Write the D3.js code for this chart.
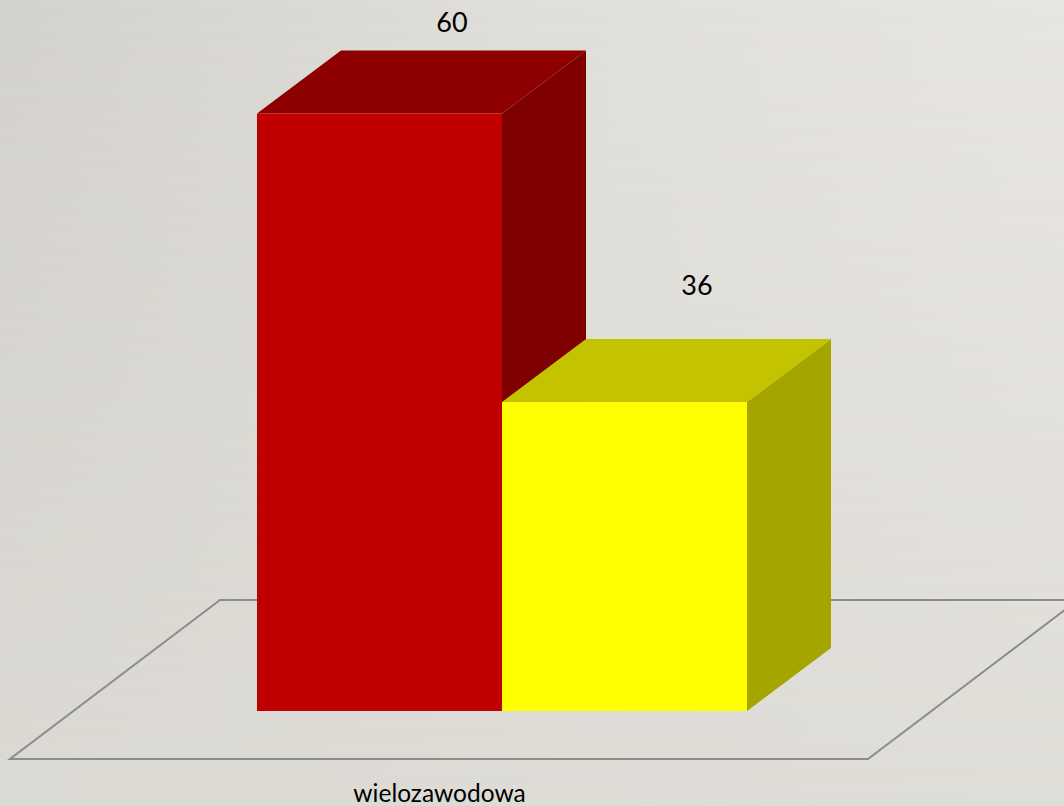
<!DOCTYPE html>
<html><head><meta charset="utf-8">
<script src="https://cdn.jsdelivr.net/npm/d3@7/dist/d3.min.js"></script>
<style>html,body{margin:0;padding:0;overflow:hidden}svg{display:block}</style>
</head><body><svg id="c" width="1064" height="806"></svg>
<script>
const categories = ["wielozawodowa"];
const seriesNames = ["A", "B"];
const seriesValues = [60, 36];
const seriesFront = ["#c00000", "#ffff00"];
const seriesTop = ["#8e0000", "#c3c300"];
const seriesSide = ["#7f0000", "#a5a500"];

const svg = d3.select("#c");
const defs = svg.append("defs");
const hGrad = (id, a, m, b) => {
  const gr = defs.append("linearGradient").attr("id",id).attr("x1","0").attr("x2","1").attr("y1","0").attr("y2","0");
  gr.append("stop").attr("offset","0").attr("stop-color",a);
  gr.append("stop").attr("offset","0.5").attr("stop-color",m);
  gr.append("stop").attr("offset","1").attr("stop-color",b);
};
hGrad("bgTop","#d4d2cd","#e0dfda","#e8e6e2");
hGrad("bgBottom","#dbd9d3","#dddbd5","#dfddd7");
const fade = defs.append("linearGradient").attr("id","fade").attr("x1","0").attr("x2","0").attr("y1","0").attr("y2","1");
fade.append("stop").attr("offset","0").attr("stop-color","#000");
fade.append("stop").attr("offset","1").attr("stop-color","#fff");
defs.append("mask").attr("id","fadeMask").attr("maskUnits","userSpaceOnUse").attr("x",0).attr("y",0).attr("width",1064).attr("height",806)
  .append("rect").attr("width",1064).attr("height",806).attr("fill","url(#fade)");
svg.append("rect").attr("width",1064).attr("height",806).attr("fill","url(#bgTop)");
svg.append("rect").attr("width",1064).attr("height",806).attr("fill","url(#bgBottom)").attr("mask","url(#fadeMask)");

// The bars sit on a truncated baseline: the value axis does not start at zero.
const y = d3.scaleLinear().domain([10.3,60]).range([711,113.5]);
const labelY = d3.scaleLinear().domain([36,60]).range([295,32]);
const x = d3.scaleBand().domain(seriesNames).range([257,747]).padding(0);
const dx = 84, dy = -63;

const floor = d3.path();
floor.moveTo(10,759); floor.lineTo(868,759); floor.lineTo(1078,600); floor.lineTo(220,600); floor.closePath();
svg.append("path").attr("d",floor.toString()).attr("fill","none").attr("stroke","#8c8c8a").attr("stroke-width",2);

const poly = pts => "M" + pts.map(p=>p.join(",")).join("L") + "Z";
const g = svg.selectAll("g.bar").data(seriesValues).join("g").attr("class","bar");
g.each(function(v,i){
  const s = d3.select(this), x0 = x(seriesNames[i]), x1 = x0 + x.bandwidth(), yt = y(v), yb = y.range()[0];
  s.append("path").attr("d",poly([[x1,yt],[x1+dx,yt+dy],[x1+dx,yb+dy],[x1,yb]])).attr("fill",seriesSide[i]);
  s.append("path").attr("d",poly([[x0,yt],[x0+dx,yt+dy],[x1+dx,yt+dy],[x1,yt]])).attr("fill",seriesTop[i]);
  s.append("rect").attr("x",x0).attr("y",yt).attr("width",x1-x0).attr("height",yb-yt).attr("fill",seriesFront[i]);
  s.append("text").attr("x",(x0+x1)/2+72.5).attr("y",labelY(v)).attr("text-anchor","middle")
    .attr("font-family","Lato,sans-serif").attr("font-size",27).attr("fill","#000").text(v);
});
svg.append("text").attr("x",439.5).attr("y",802).attr("text-anchor","middle")
  .attr("font-family","Lato,sans-serif").attr("font-size",24.5).attr("fill","#000").text(categories[0]);
</script></body></html>
